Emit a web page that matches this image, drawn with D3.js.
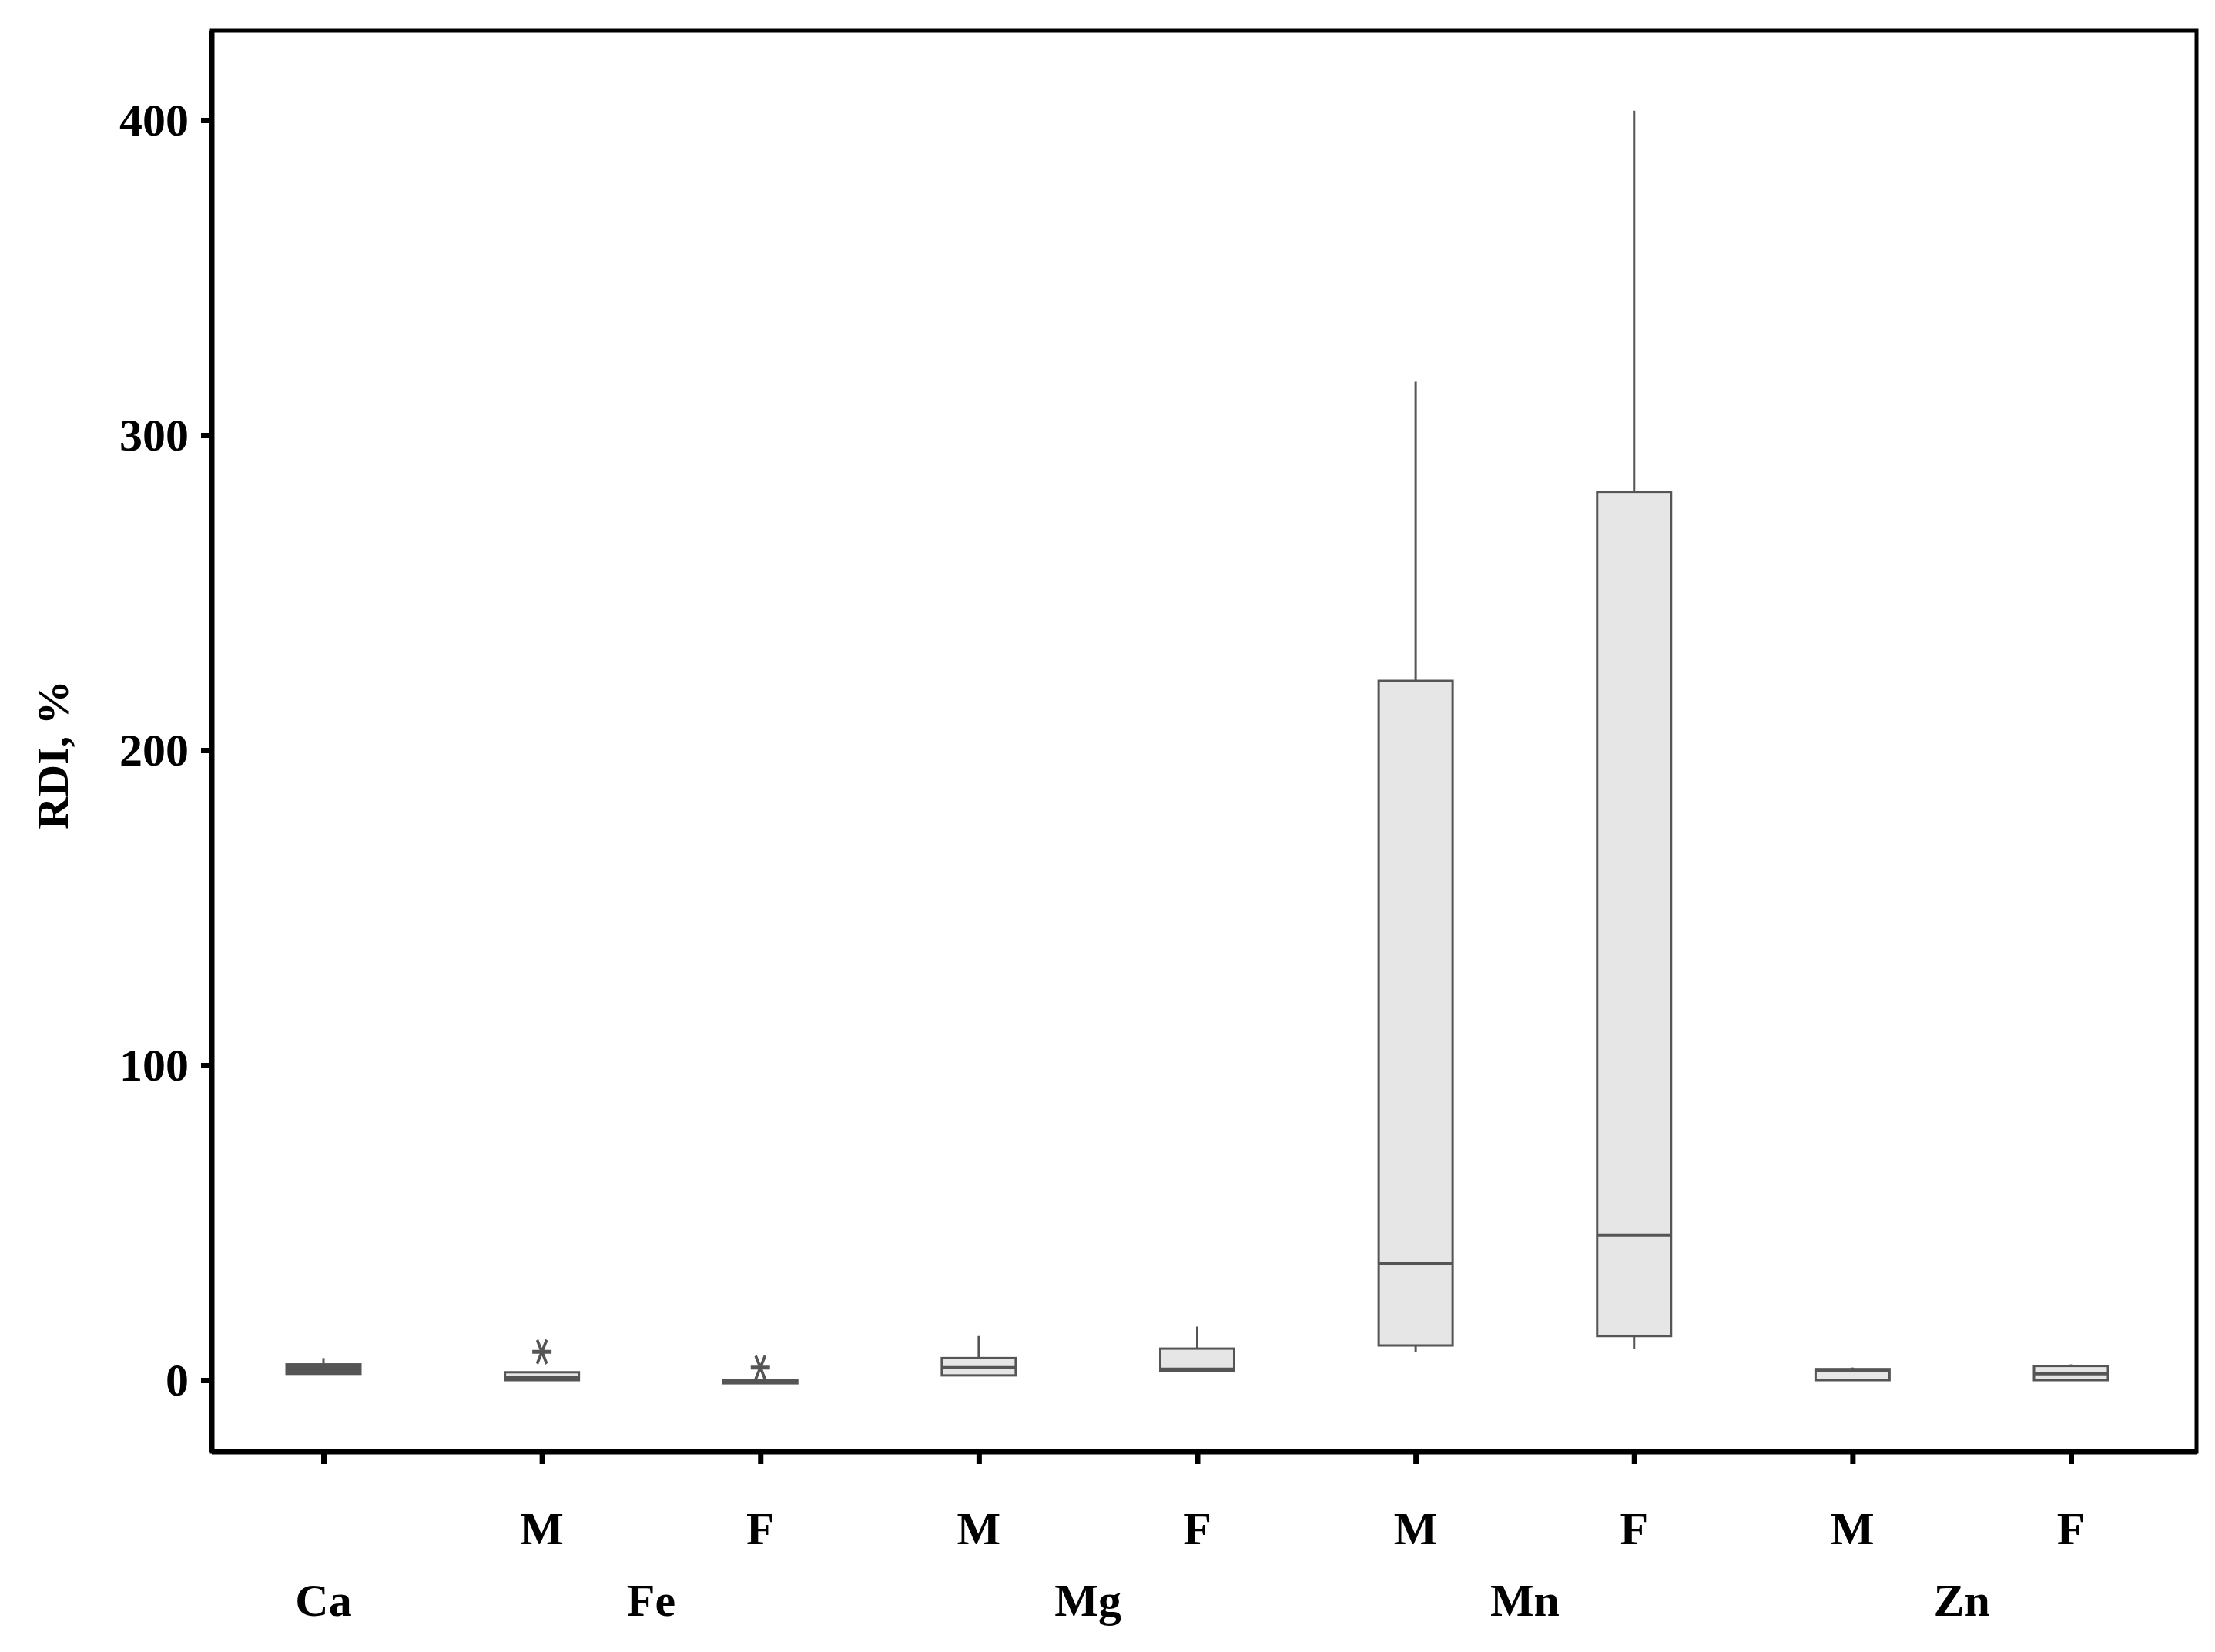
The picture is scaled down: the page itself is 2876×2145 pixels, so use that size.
<!DOCTYPE html>
<html><head><meta charset="utf-8">
<script src="https://cdn.jsdelivr.net/npm/d3@7"></script>
<style>body{margin:0;background:#fff}text{font-family:"Liberation Serif","Times New Roman",serif;font-weight:bold}</style>
</head><body><svg id="c" width="2876" height="2145"></svg>
<script>
// data
var groups = ["Ca", "Fe M", "Fe F", "Mg M", "Mg F", "Mn M", "Mn F", "Zn M", "Zn F"];
var sexLabels = ["", "M", "F", "M", "F", "M", "F", "M", "F"];
var elements = [{name: "Ca", from: 0, to: 0}, {name: "Fe", from: 1, to: 2}, {name: "Mg", from: 3, to: 4}, {name: "Mn", from: 5, to: 6}, {name: "Zn", from: 7, to: 8}];
var whiskerLow = [2, 0, -1, 1.5, 3, 9, 10, 0, 0];
var q1 = [2, 0, -1, 1.5, 3, 11, 14, 0, 0];
var median = [3.5, 1, -0.5, 4, 3.5, 37, 46, 3, 2];
var q3 = [5, 2.5, 0, 7, 10, 222, 282, 3.5, 4.5];
var whiskerHigh = [7, 2.5, 0, 14, 17, 317, 403, 4, 5];
var outliers = [[], [9], [4], [], [], [], [], [], []];
var yTicks = [0, 100, 200, 300, 400];

var svg = d3.select("#c");
var pLeft = 275, pTop = 40, pRight = 2852, pBottom = 1885;
var y = d3.scaleLinear().domain([0, 400]).range([1792, 156]);
var x = d3.scalePoint().domain(groups).range([420, 2689]);
var bw = 96;

svg.append("rect").attr("x", pLeft).attr("y", pTop).attr("width", pRight - pLeft).attr("height", pBottom - pTop)
    .attr("fill", "none").attr("stroke", "#000").attr("stroke-width", 5);
svg.append("line").attr("x1", pLeft).attr("x2", pLeft).attr("y1", pTop).attr("y2", pBottom).attr("stroke", "#000").attr("stroke-width", 7);
svg.append("line").attr("x1", pLeft).attr("x2", pRight).attr("y1", pBottom).attr("y2", pBottom).attr("stroke", "#000").attr("stroke-width", 7);

var yAxis = svg.append("g").attr("transform", "translate(" + pLeft + ",0)")
    .call(d3.axisLeft(y).tickValues(yTicks).tickSize(14).tickPadding(16));
yAxis.select(".domain").remove();
yAxis.selectAll("line").attr("stroke-width", 7);
yAxis.selectAll("text").attr("font-size", 60).attr("fill", "#000").attr("font-family", "Liberation Serif");

var xAxis = svg.append("g").attr("transform", "translate(0," + pBottom + ")")
    .call(d3.axisBottom(x).tickSize(16).tickFormat(""));
xAxis.select(".domain").remove();
xAxis.selectAll("line").attr("stroke-width", 7);

svg.selectAll(".sex").data(groups).enter().append("text")
    .attr("x", d => x(d)).attr("y", 2005).attr("text-anchor", "middle")
    .attr("font-size", 60).text((d, i) => sexLabels[i]);
svg.selectAll(".el").data(elements).enter().append("text")
    .attr("x", d => d.from === d.to ? x(groups[d.from]) : (x(groups[d.from]) + x(groups[d.to])) / 2)
    .attr("y", 2098).attr("text-anchor", "middle").attr("font-size", 60).text(d => d.name);

svg.append("text").attr("transform", "translate(88,980) rotate(-90)").attr("text-anchor", "middle")
    .attr("font-size", 58).text("RDI, %");

var col = "#555";
var g = svg.selectAll(".box").data(groups).enter().append("g");
g.append("line").attr("x1", d => x(d)).attr("x2", d => x(d))
    .attr("y1", (d, i) => y(whiskerHigh[i])).attr("y2", (d, i) => y(q3[i])).attr("stroke", col).attr("stroke-width", 3);
g.append("line").attr("x1", d => x(d)).attr("x2", d => x(d))
    .attr("y1", (d, i) => y(whiskerLow[i])).attr("y2", (d, i) => y(q1[i])).attr("stroke", col).attr("stroke-width", 3);
g.append("rect").attr("x", d => x(d) - bw / 2).attr("width", bw)
    .attr("y", (d, i) => y(q3[i])).attr("height", (d, i) => Math.max(y(q1[i]) - y(q3[i]), 3))
    .attr("fill", (d, i) => q3[i] - q1[i] < 1.5 || i === 0 ? col : "#e6e6e6").attr("stroke", col).attr("stroke-width", 3);
g.append("line").attr("x1", d => x(d) - bw / 2).attr("x2", d => x(d) + bw / 2)
    .attr("y1", (d, i) => y(median[i])).attr("y2", (d, i) => y(median[i])).attr("stroke", col).attr("stroke-width", 4);

var star = d3.symbol().type(d3.symbolAsterisk).size(900);
groups.forEach(function (d, i) {
    outliers[i].forEach(function (v) {
        svg.append("path").attr("d", star())
            .attr("transform", "translate(" + x(d) + "," + y(v) + ") rotate(90) scale(1,0.7)")
            .attr("fill", "none").attr("stroke", col).attr("stroke-width", 5);
    });
});
</script></body></html>
